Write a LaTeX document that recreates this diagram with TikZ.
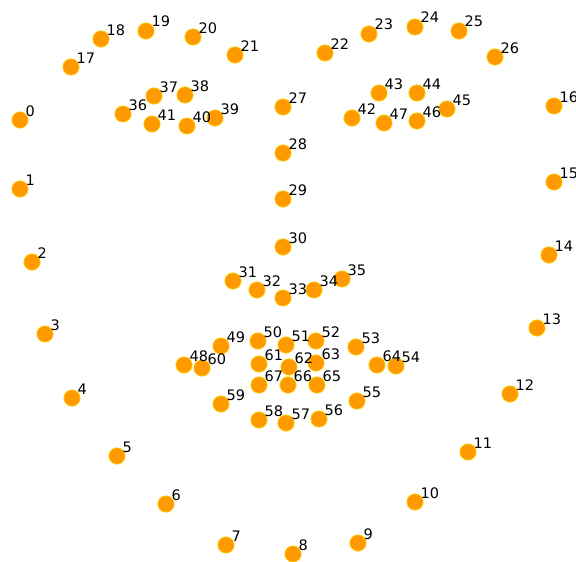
\documentclass[tikz,border=0pt]{standalone}
\usepackage{fontspec}
\setmainfont{DejaVu Sans}
\definecolor{dotfill}{HTML}{FF9900}
\definecolor{dotedge}{HTML}{FFCC00}
\begin{document}
\begin{tikzpicture}[x=1pt,y=-1pt,
  dot/.style={circle,fill=dotfill,draw=dotedge,line width=0.7pt,minimum size=16.3pt,inner sep=0pt},
  lab/.style={anchor=base west,inner sep=0pt,font=\fontsize{14.5}{14.5}\selectfont,text=black}]
\useasboundingbox[fill=white] (0,0) rectangle (576,562);
\foreach \i/\x/\y in {0/20/120,1/20/189,2/32/262,3/45/334,4/72/398,5/117/456,6/166/504,7/226/545,
  8/293/554,9/358/543,10/415/502,11/468/452,12/510/394,13/537/328,14/549/255,15/554/182,16/554/106,
  17/71/67,18/101/39,19/146/31,20/193/37,21/235/55,22/325/53,23/369/34,24/415/27,25/459/31,26/495/57,
  27/283/107,28/283/153,29/283/199,30/283/247,31/233/281,32/257/290,33/283/298,34/314/290,35/342/279,
  36/123/114,37/154/96,38/185/95,39/215/118,40/187/126,41/152/124,
  42/352/118,43/379/93,44/417/93,45/447/109,46/417/121,47/384/123,
  48/184/365,49/221/346,50/258/341,51/286/345,52/316/341,53/356/347,54/396/366,55/357/401,
  56/319/419,57/286/423,58/259/420,59/221/404,60/202/368,61/259/364,62/289/367,63/316/363,
  64/377/365,65/317/385,66/288/385,67/259/385}
  {\node[dot] (p\i) at (\x,\y) {};}
\foreach \i in {0,...,67}
  {\node[lab] (l\i) at ([shift={(5.5pt,4pt)}]p\i.center) {\i};}
\end{tikzpicture}
\end{document}
